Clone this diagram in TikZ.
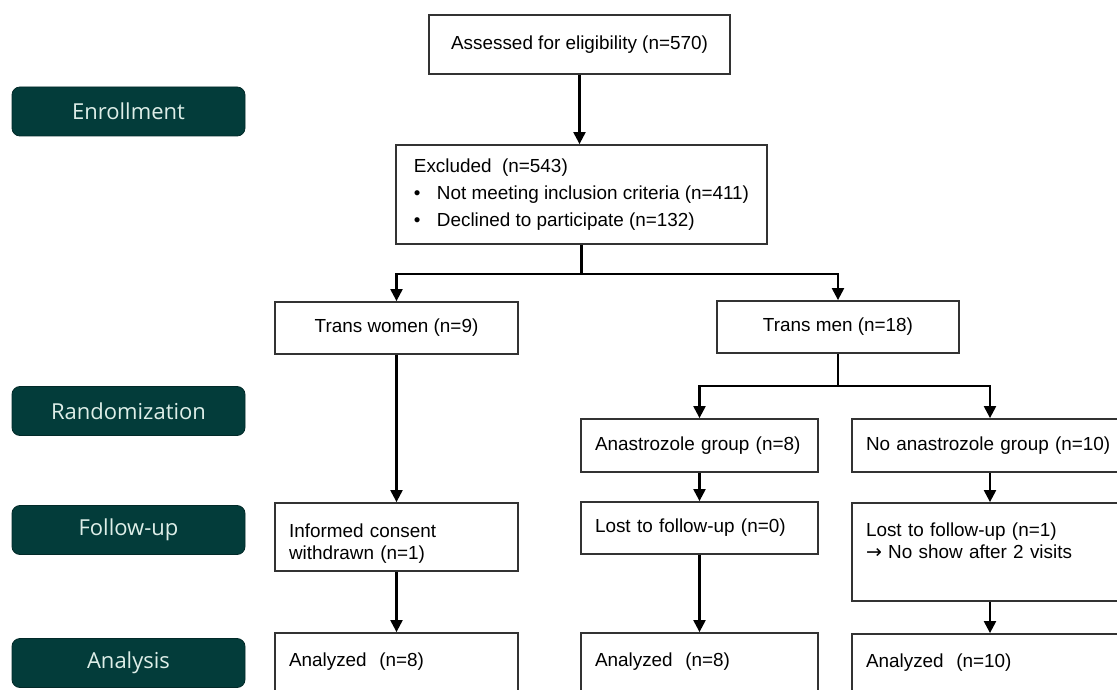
\documentclass[tikz,border=0pt]{standalone}
\usepackage{fontspec}
\setmainfont{Liberation Sans}
\newfontfamily\phasefont{Open Sans}
\newfontfamily\arrowfont{DejaVu Sans}
\usepackage{tikz}
\usetikzlibrary{arrows.meta}
\definecolor{phasefill}{RGB}{3,60,58}
\definecolor{phasetext}{RGB}{222,238,232}
\tikzset{
  box/.style={draw=black!80, line width=1.8pt, inner ysep=0pt,
    font=\fontsize{18.9}{22}\selectfont},
  cbox/.style={box, align=center, inner xsep=0pt},
  lbox/.style={box, align=left, inner xsep=14pt},
  phase/.style={draw=phasefill!70!black, line width=0.8pt, fill=phasefill,
    text=phasetext, rounded corners=8pt, minimum width=233pt, minimum height=49pt,
    font=\phasefont\fontsize{22}{26}\selectfont},
  conn/.style={line width=2.2pt},
  arr/.style={conn, -{Triangle[length=12pt,width=12pt]}}
}

\begin{document}
\begin{tikzpicture}[x=1pt,y=-1pt]
  \clip (0,0) rectangle (1117,690);
  % phase labels
  \node[phase] (enrol) at (128.5,111.5) {Enrollment};
  \node[phase] (rand) at (128.5,411) {Randomization};
  \node[phase] (follow) at (128.5,530) {Follow-up};
  \node[phase] (analysis) at (128.5,663) {Analysis};
  % enrollment
  \node[cbox, minimum width=301pt, minimum height=59pt] (assess) at (579.5,44.5)
    {Assessed for eligibility (n=570)};
  \node[box, align=left, inner xsep=16pt, minimum width=371pt, minimum height=99pt] (excl) at (581.5,194.5)
    {Excluded\ \ (n=543)\\[5pt]
     \makebox[23pt][l]{\textbullet}Not meeting inclusion criteria (n=411)\\[5pt]
     \makebox[23pt][l]{\textbullet}Declined to participate (n=132)};
  % groups
  \node[cbox, minimum width=243pt, minimum height=52pt] (women) at (396.5,328) {Trans women (n=9)};
  \node[cbox, minimum width=242pt, minimum height=52pt] (men) at (838,327) {Trans men (n=18)};
  \node[lbox, text width=209pt, minimum height=53pt] (ana) at (699.5,445.5) {Anastrozole group (n=8)};
  \node[lbox, text width=248pt, minimum height=53pt] (noana) at (990,445.5) {No anastrozole group (n=10)};
  % follow-up
  \node[lbox, text width=215pt, minimum height=68pt] (consent) at (396.5,537)
    {\rule{0pt}{26pt}Informed consent\\withdrawn (n=1)};
  \node[lbox, text width=209pt, minimum height=52pt] (lost0) at (699.5,528) {Lost to follow-up (n=0)};
  \node[lbox, text width=248pt, minimum height=98pt] (lost1) at (990,552)
    {Lost to follow-up (n=1)\\{\arrowfont\fontsize{19}{22}\selectfont →} No show after 2 visits\\\mbox{}};
  % analysis
  \node[lbox, text width=215pt, minimum height=98pt] (womenA) at (396.5,682)
    {Analyzed\ \ (n=8)\\\mbox{}\\\mbox{}};
  \node[lbox, text width=209pt, minimum height=98pt] (anaA) at (699.5,682)
    {Analyzed\ \ (n=8)\\\mbox{}\\\mbox{}};
  \node[lbox, text width=248pt, minimum height=98pt] (noanaA) at (990,683)
    {Analyzed\ \ (n=10)\\\mbox{}\\\mbox{}};
  % connectors
  \draw[arr] (assess.south) -- (assess.south |- excl.north);
  \draw[conn] (excl.south) -- ++(0,29) coordinate (split1);
  \draw[arr] (split1) -| (women.north);
  \draw[arr] (split1) -| (men.north);
  \draw[conn] (men.south) -- ++(0,32) coordinate (split2);
  \draw[arr] (split2) -| (ana.north);
  \draw[arr] (split2) -| (noana.north);
  \draw[arr] (women) -- (consent);
  \draw[arr] (consent) -- (womenA);
  \draw[arr] (ana) -- (lost0);
  \draw[arr] (lost0) -- (anaA);
  \draw[arr] (noana) -- (lost1);
  \draw[arr] (lost1) -- (noanaA);
\end{tikzpicture}
\end{document}
